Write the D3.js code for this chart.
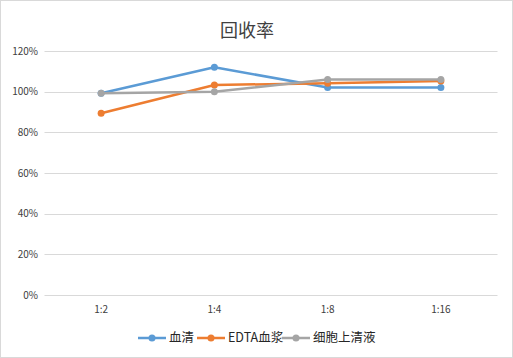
<!DOCTYPE html>
<html>
<head>
<meta charset="utf-8">
<script src="https://d3js.org/d3.v7.min.js"></script>
<style>
body { margin: 0; background: #fff; }
text { font-family: "Noto Sans CJK SC", "Liberation Sans", sans-serif; }
</style>
</head>
<body>
<svg width="513" height="358"></svg>
<script>
// chart data
const categories = ["1:2", "1:4", "1:8", "1:16"];
const serum = [0.992, 1.12, 1.02, 1.02];
const edtaPlasma = [0.894, 1.033, 1.041, 1.052];
const cellSupernatant = [0.992, 1.0, 1.06, 1.06];
const seriesNames = ["血清", "EDTA血浆", "细胞上清液"];
const yTicks = [0, 0.2, 0.4, 0.6, 0.8, 1.0, 1.2];
const title = "回收率";

const colors = ["#5b9bd5", "#ed7d31", "#a5a5a5"];
const series = [serum, edtaPlasma, cellSupernatant];

const svg = d3.select("svg");

svg.append("rect")
    .attr("x", 0.5).attr("y", 0.5)
    .attr("width", 512).attr("height", 357)
    .attr("fill", "#fff")
    .attr("stroke", "#d9d9d9");

const x = d3.scaleBand()
    .domain(categories)
    .range([44.5, 497.5]);

const y = d3.scaleLinear()
    .domain([0, 1.2])
    .range([295, 51]);

// gridlines
svg.append("g")
    .selectAll("line")
    .data(yTicks)
    .enter().append("line")
    .attr("x1", 44.5).attr("x2", 497.5)
    .attr("y1", d => Math.round(y(d)) + 0.5)
    .attr("y2", d => Math.round(y(d)) + 0.5)
    .attr("stroke", "#d9d9d9")
    .attr("stroke-width", 1);

// y labels
svg.append("g")
    .selectAll("text")
    .data(yTicks)
    .enter().append("text")
    .attr("x", 38)
    .attr("y", d => y(d))
    .attr("dy", "0.35em")
    .attr("text-anchor", "end")
    .attr("font-size", 10)
    .attr("fill", "#404040")
    .text(d3.format(".0%"));

// x labels
svg.append("g")
    .selectAll("text")
    .data(categories)
    .enter().append("text")
    .attr("x", d => x(d) + x.bandwidth() / 2)
    .attr("y", 313)
    .attr("text-anchor", "middle")
    .attr("font-size", 10)
    .attr("fill", "#404040")
    .text(d => d);

// title
svg.append("text")
    .attr("x", 247)
    .attr("y", 37)
    .attr("text-anchor", "middle")
    .attr("font-size", 18)
    .attr("fill", "#404040")
    .text(title);

const line = d3.line()
    .x((d, i) => x(categories[i]) + x.bandwidth() / 2)
    .y(d => y(d));

series.forEach((vals, k) => {
    const g = svg.append("g");
    g.append("path")
        .datum(vals)
        .attr("d", line)
        .attr("fill", "none")
        .attr("stroke", colors[k])
        .attr("stroke-width", 2.5)
        .attr("stroke-linejoin", "round");
    g.selectAll("circle")
        .data(vals)
        .enter().append("circle")
        .attr("cx", (d, i) => x(categories[i]) + x.bandwidth() / 2)
        .attr("cy", d => y(d))
        .attr("r", 3.5)
        .attr("fill", colors[k]);
});

// legend
const legendX = [138, 197, 282];
const legend = svg.append("g");
seriesNames.forEach((name, k) => {
    const lx = legendX[k];
    legend.append("line")
        .attr("x1", lx).attr("x2", lx + 28)
        .attr("y1", 338).attr("y2", 338)
        .attr("stroke", colors[k])
        .attr("stroke-width", 2.5);
    legend.append("circle")
        .attr("cx", lx + 14).attr("cy", 338)
        .attr("r", 3.5)
        .attr("fill", colors[k]);
    legend.append("text")
        .attr("x", lx + 31)
        .attr("y", 338)
        .attr("dy", "0.35em")
        .attr("font-size", 12.5)
        .attr("fill", "#262626")
        .text(name);
});
</script>
</body>
</html>
